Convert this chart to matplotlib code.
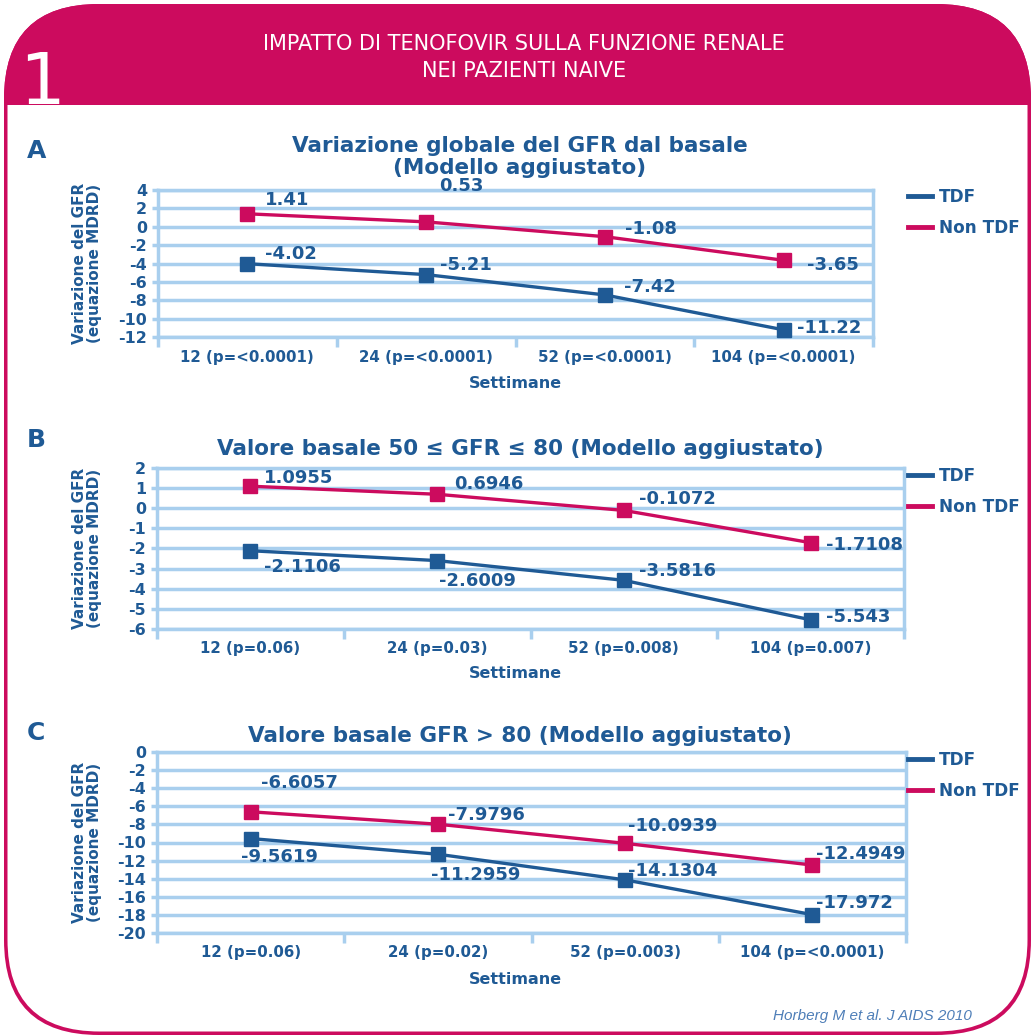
import matplotlib
matplotlib.use("Agg")
import matplotlib.pyplot as plt
from matplotlib.patches import FancyBboxPatch, Rectangle
from matplotlib.lines import Line2D

# colours
BLUE = "#1F5A95"
MAGENTA = "#CC0B5E"
GRID = "#A9CFEE"
NOTE = "#4F7FB8"

W, H = 1034, 1035

# data
labels_a = ["12 (p=<0.0001)", "24 (p=<0.0001)", "52 (p=<0.0001)", "104 (p=<0.0001)"]
tdf_a = [-4.02, -5.21, -7.42, -11.22]
non_a = [1.41, 0.53, -1.08, -3.65]

labels_b = ["12 (p=0.06)", "24 (p=0.03)", "52 (p=0.008)", "104 (p=0.007)"]
tdf_b = [-2.1106, -2.6009, -3.5816, -5.543]
non_b = [1.0955, 0.6946, -0.1072, -1.7108]

labels_c = ["12 (p=0.06)", "24 (p=0.02)", "52 (p=0.003)", "104 (p=<0.0001)"]
tdf_c = [-9.5619, -11.2959, -14.1304, -17.972]
non_c = [-6.6057, -7.9796, -10.0939, -12.4949]

# label offsets (pixels, right / up) from each marker, as placed in the original
off_tdf_a = [(18, 10), (14, 10), (19, 8), (13, 2)]
off_non_a = [(18, 14), (13, 36), (20, 8), (23, -5)]
off_tdf_b = [(14, -16), (2, -20), (15, 9), (15, 3)]
off_non_b = [(14, 8), (17, 10), (15, 11), (15, -2)]
off_tdf_c = [(-10, -18), (-7, -21), (3, 9), (4, 12)]
off_non_c = [(10, 29), (10, 9), (3, 17), (4, 11)]

plt.rcParams["font.family"] = "DejaVu Sans"
plt.rcParams["font.weight"] = "bold"
plt.rcParams["axes.unicode_minus"] = False

fig = plt.figure(figsize=(W / 100, H / 100), dpi=100)

# ---- frame and header, drawn in pixel coordinates
bg = fig.add_axes([0, 0, 1, 1], zorder=-1)
bg.set_xlim(0, W); bg.set_ylim(H, 0); bg.axis("off")
outer = FancyBboxPatch((4, 4), 1027, 1031, boxstyle="round,pad=0,rounding_size=95",
                       fc=MAGENTA, ec="none")
inner = FancyBboxPatch((7.5, 7.5), 1020, 1024, boxstyle="round,pad=0,rounding_size=92",
                       fc="white", ec="none")
head = FancyBboxPatch((4, 4), 1027, 1031, boxstyle="round,pad=0,rounding_size=95",
                      fc=MAGENTA, ec="none")
bg.add_patch(outer); bg.add_patch(inner); bg.add_patch(head)
clip = Rectangle((0, 0), W, 105, transform=bg.transData)
head.set_clip_path(clip)

bg.text(42, 104, "1", color="white", fontsize=52, fontweight="normal",
        ha="center", va="baseline")
bg.text(524, 44, "IMPATTO DI TENOFOVIR SULLA FUNZIONE RENALE", color="white",
        fontsize=15, fontweight="normal", ha="center", va="center")
bg.text(524, 71, "NEI PAZIENTI NAIVE", color="white",
        fontsize=15, fontweight="normal", ha="center", va="center")
bg.text(972, 1016, "Horberg M et al. J AIDS 2010", color=NOTE, fontsize=11,
        family="Liberation Sans", fontweight="normal", style="italic",
        ha="right", va="center")


def panel(letter, letter_y, box, ylim, ystep, title, title_y, xticklabels,
          tdf, non, off_tdf, off_non, legend_y, xlabel_y):
    l, t, r, b = box
    ax = fig.add_axes([l / W, 1 - b / H, (r - l) / W, (b - t) / H])
    x = range(len(tdf))
    ax.plot(x, non, color=MAGENTA, lw=2.4, marker="s", ms=9.4, mec=MAGENTA,
            label="Non TDF", zorder=3, clip_on=False)
    ax.plot(x, tdf, color=BLUE, lw=2.4, marker="s", ms=9.4, mec=BLUE,
            label="TDF", zorder=3, clip_on=False)
    for xi, v, (dx, dy) in zip(x, non, off_non):
        ax.annotate(f"{v:g}", (xi, v), xytext=(dx, dy), textcoords="offset pixels",
                    ha="left", va="center", fontsize=13, color=BLUE,
                    annotation_clip=False, zorder=4)
    for xi, v, (dx, dy) in zip(x, tdf, off_tdf):
        ax.annotate(f"{v:g}", (xi, v), xytext=(dx, dy), textcoords="offset pixels",
                    ha="left", va="center", fontsize=13, color=BLUE,
                    annotation_clip=False, zorder=4)

    ax.set_xlim(-0.5, len(tdf) - 0.5)
    ax.set_ylim(*ylim)
    ax.set_yticks(range(ylim[0], ylim[1] + 1, ystep))
    ax.yaxis.grid(True, color=GRID, lw=2.5)
    ax.set_axisbelow(True)
    for s in ax.spines.values():
        s.set_color(GRID); s.set_linewidth(2.5)
    ax.tick_params(axis="y", colors=GRID, labelcolor=BLUE, labelsize=11.4,
                   length=4, width=2.5, pad=4)
    ax.set_xticks(list(x))
    ax.set_xticklabels(xticklabels, fontsize=10.8, color=BLUE)
    ax.set_xticks([i - 0.5 for i in range(len(tdf) + 1)], minor=True)
    ax.tick_params(axis="x", which="major", length=0, pad=9)
    ax.tick_params(axis="x", which="minor", length=7, width=2.5, color=GRID)

    fig.text(520 / W, 1 - title_y / H, title, ha="center",
             va="center", fontsize=15.5, color=BLUE, linespacing=1.12)
    fig.text(27 / W, 1 - letter_y / H, letter, ha="left", va="baseline",
             fontsize=18, fontweight="heavy", color=BLUE)
    fig.text(87 / W, 1 - 0.5 * (t + b) / H, "Variazione del GFR\n(equazione MDRD)",
             rotation=90, ha="center", va="center", fontsize=11, color=BLUE,
             linespacing=1.05)
    fig.text(515 / W, 1 - xlabel_y / H, "Settimane", ha="center", va="center",
             fontsize=11.5, color=BLUE)

    handles = [Line2D([], [], color=BLUE, lw=3.5), Line2D([], [], color=MAGENTA, lw=3.5)]
    ax.legend(handles, ["TDF", "Non TDF"], loc="upper left",
              bbox_to_anchor=(908 / W, 1 - (legend_y - 12) / H),
              bbox_transform=fig.transFigure, frameon=False, borderpad=0,
              borderaxespad=0, handlelength=1.4, handletextpad=0.45,
              labelspacing=0.78, prop={"size": 12.2, "weight": "bold"},
              labelcolor=BLUE)
    return ax


panel("A", 158, (158, 190, 873, 337), (-12, 4), 2,
      "Variazione globale del GFR dal basale\n(Modello aggiustato)", 157,
      labels_a, tdf_a, non_a, off_tdf_a, off_non_a, 200, 383)
panel("B", 447, (157, 468, 904, 629), (-6, 2), 1,
      "Valore basale 50 \u2264 GFR \u2264 80 (Modello aggiustato)", 449,
      labels_b, tdf_b, non_b, off_tdf_b, off_non_b, 479, 674)
panel("C", 740, (157, 752, 906, 933), (-20, 0), 2,
      "Valore basale GFR > 80 (Modello aggiustato)", 736,
      labels_c, tdf_c, non_c, off_tdf_c, off_non_c, 763, 979)

fig.savefig("out.png", dpi=100)
